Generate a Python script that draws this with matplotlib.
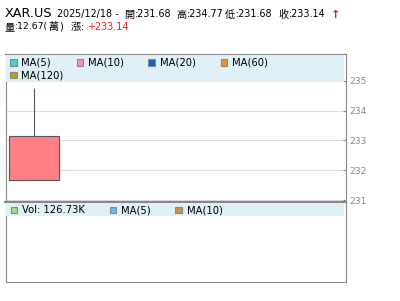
import matplotlib
matplotlib.use("Agg")
import matplotlib.pyplot as plt
from matplotlib.patches import Rectangle

plt.rcParams["font.family"] = ["DejaVu Sans", "Noto Sans CJK TC"]

# candle data (one trading day)
dates = ["2025/12/18"]
opens = [231.68]
highs = [234.77]
lows = [231.68]
closes = [233.14]
volume_label = "Vol: 126.73K"
volume_wan = 12.67

price_ticks = [231, 232, 233, 234, 235]

ma_labels = ["MA(5)", "MA(10)", "MA(20)", "MA(60)", "MA(120)"]
ma_colors = ["#44d2d0", "#ff8ab8", "#0a66b4", "#ff8a22", "#b8a400"]
vol_labels = [volume_label, "MA(5)", "MA(10)"]
vol_colors = ["#9ee07e", "#58bff0", "#c8924a"]

W, H = 400, 301
BORDER = "#888888"
BAND = "#dff0f9"


def rect(x0, y0, x1, y1):
    """pixel box (top-left origin) -> figure fraction rect"""
    return [x0 / W, 1 - y1 / H, (x1 - x0) / W, (y1 - y0) / H]


fig = plt.figure(figsize=(W / 100, H / 100), dpi=100)

# price panel
ax = fig.add_axes(rect(5.5, 54, 345.5, 201.5))
xs = list(range(len(closes)))
for x, o, h, l, c in zip(xs, opens, highs, lows, closes):
    ax.vlines(x, max(o, c), h, color="#555555", lw=0.8, zorder=3)
    ax.vlines(x, l, min(o, c), color="#555555", lw=0.8, zorder=3)
    ax.bar(x, abs(c - o), bottom=min(o, c), width=0.88,
           color="#ff8084" if c >= o else "#66bb66",
           edgecolor="#555555", lw=0.8, zorder=4)
ax.set_xlim(-0.5, 5.5)
ax.set_ylim(230.957, 235.896)
ax.set_yticks(price_ticks)
ax.yaxis.tick_right()
ax.tick_params(axis="y", direction="in", length=2.5, width=0.8, color=BORDER,
               labelcolor="#888888", labelsize=6.6, pad=3)
ax.tick_params(axis="x", bottom=False, labelbottom=False)
ax.grid(axis="y", color="#dddddd", lw=0.8)
ax.set_axisbelow(True)
for sp in ax.spines.values():
    sp.set_color(BORDER)
    sp.set_linewidth(0.8)
ax.spines["bottom"].set_linewidth(1.5)

# volume panel (no bars drawn in the source)
vax = fig.add_axes(rect(5.5, 202, 345.5, 282))
vax.set_xticks([])
vax.set_yticks([])
for sp in vax.spines.values():
    sp.set_color(BORDER)
    sp.set_linewidth(0.8)
vax.spines["top"].set_linewidth(1.5)

# overlay in pixel coordinates for title and legend bands
ov = fig.add_axes([0, 0, 1, 1], zorder=10)
ov.set_xlim(0, W)
ov.set_ylim(H, 0)
ov.axis("off")
ov.patch.set_visible(False)

ov.add_patch(Rectangle((6, 54.8), 338, 26.8, color=BAND, lw=0))
ov.add_patch(Rectangle((6, 203), 338, 12.7, color=BAND, lw=0))


def legend_item(x, y, label, color):
    ov.add_patch(Rectangle((x, y - 3.3), 6.6, 6.6, facecolor=color,
                           edgecolor=BORDER, lw=0.8))
    ov.text(x + 11.5, y + 0.3, label, fontsize=7.2, va="center", ha="left")


ma_pos = [(10, 62.5), (76.7, 62.5), (148.3, 62.5), (220.7, 62.5), (10, 75)]
for (x, y), lab, col in zip(ma_pos, ma_labels, ma_colors):
    legend_item(x, y, lab, col)

vol_pos = [(10.7, 210), (109.7, 210), (175.3, 210)]
for (x, y), lab, col in zip(vol_pos, vol_labels, vol_colors):
    legend_item(x, y, lab, col)

# header lines
ts = 6.9
cs = 7.3
y1, y2 = 17.3, 29.5


def cjk(x, y, s):
    ov.text(x, y, s, fontsize=cs, va="baseline")


ov.text(4.5, y1, "XAR.US", fontsize=9.2, va="baseline")
ov.text(57, y1, dates[0] + " -", fontsize=ts, va="baseline")
head = [("開", opens[0], 125), ("高", highs[0], 176.5),
        ("低", lows[0], 225.2), ("收", closes[0], 279)]
for name, val, x in head:
    cjk(x - 0.5, y1 + 0.8, name)
    ov.text(x + 10.3, y1, f":{val:.2f}", fontsize=ts, va="baseline")
ov.text(330.5, 18.2, "↑", fontsize=8, color="#ee1111", fontweight="bold",
        va="baseline")

cjk(4.5, y2 + 0.8, "量")
ov.text(14.8, y2, f":{volume_wan:.2f}(", fontsize=6.7, va="baseline")
cjk(48.5, y2 + 0.8, "萬")
ov.text(58.8, y2, ")", fontsize=ts, va="baseline")
cjk(70.5, y2 + 0.8, "漲")
ov.text(80.8, y2, ":", fontsize=ts, va="baseline")
ov.text(88, y2, f"+{closes[0]:.2f}", fontsize=ts, color="#ee2222",
        va="baseline")

fig.savefig("out.png", dpi=100)
